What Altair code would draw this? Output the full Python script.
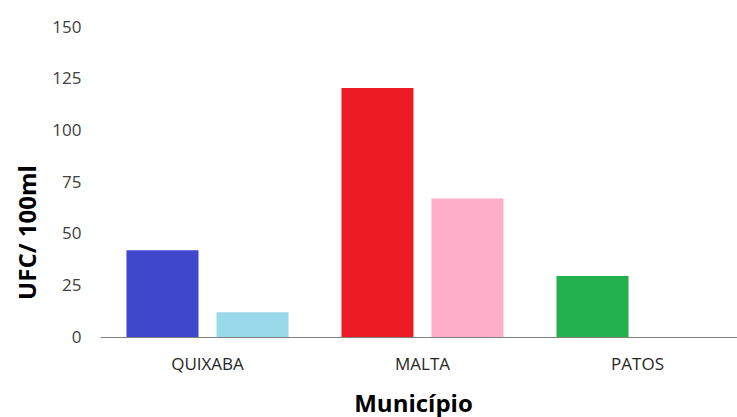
import altair as alt
import pandas as pd

municipios = ["QUIXABA", "QUIXABA", "MALTA", "MALTA", "PATOS", "PATOS"]
serie = ["A", "B", "A", "B", "A", "B"]
valores = [42, 12, 120.5, 67, 29.5, None]
chave = ["q1", "q2", "m1", "m2", "p1", "p2"]
cores_dom = ["q1", "q2", "m1", "m2", "p1", "p2"]
cores = ["#3F48CC", "#99D9EA", "#ED1C24", "#FFAEC9", "#22B14C", "#FFFFFF"]
y_ticks = [0, 25, 50, 75, 100, 125, 150]

df = pd.DataFrame({"Município": municipios, "serie": serie, "valor": valores, "chave": chave})

font = "Open Sans"

chart = alt.Chart(df).mark_bar().encode(
    x=alt.X("Município:N", sort=["QUIXABA", "MALTA", "PATOS"],
            scale=alt.Scale(paddingInner=0, paddingOuter=0, range=[0, 645]),
            axis=alt.Axis(title="Município", labelAngle=0, ticks=False, domainColor="#808080",
                          domainWidth=1, labelFont=font, labelFontSize=17, labelColor="#262626",
                          labelPadding=19, titleFont=font, titleFontSize=24, titleFontWeight="bold",
                          titleColor="#000000", titlePadding=20, titleX=313, titleAlign="center")),
    xOffset=alt.XOffset("serie:N", scale=alt.Scale(paddingInner=0.2, paddingOuter=0.294)),
    y=alt.Y("valor:Q", scale=alt.Scale(domain=[0, 150], nice=False),
            axis=alt.Axis(title="UFC/ 100ml", values=y_ticks, ticks=False, domain=False, grid=False,
                          labelFont=font, labelFontSize=17, labelColor="#404040", labelPadding=19,
                          titleFont=font, titleFontSize=24, titleFontWeight="bold",
                          titleColor="#000000", titleAngle=270, titleAlign="center",
                          titleBaseline="alphabetic", titleX=-65, titleY=205)),
    color=alt.Color("chave:N", scale=alt.Scale(domain=cores_dom, range=cores), legend=None),
).properties(
    width=637, height=310,
    autosize=alt.AutoSizeParams(type="none"),
    padding={"left": 100, "top": 27, "right": 0, "bottom": 80},
).configure_view(stroke=None).configure_axis(grid=False)

chart.save("out.html", embed_options={"renderer": "svg", "actions": False})
